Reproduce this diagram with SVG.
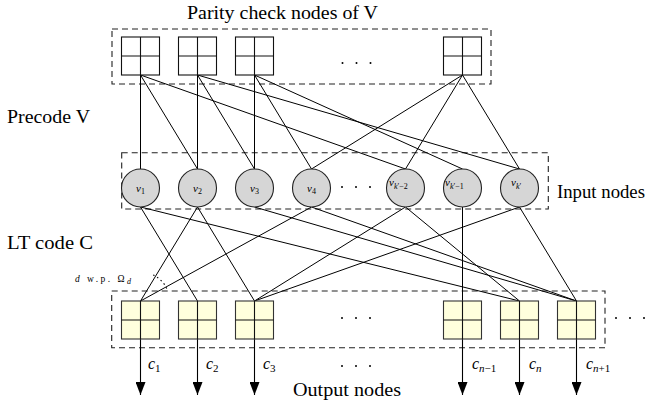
<svg xmlns="http://www.w3.org/2000/svg" width="654" height="405" viewBox="0 0 654 405">
<defs>
<marker id="arr" markerUnits="userSpaceOnUse" markerWidth="13" markerHeight="10" viewBox="0 0 13 10" refX="13" refY="5" orient="auto">
<path d="M0,0 L13,5 L0,10 z" fill="#000"/>
</marker>
</defs>
<style>
.lbl{font-family:"Liberation Serif","Times New Roman",serif;font-size:18px;fill:#000}
.it{font-family:"Liberation Serif","Times New Roman",serif;font-style:italic;fill:#000}
.rm{font-family:"Liberation Serif","Times New Roman",serif;fill:#000}
.box{fill:none;stroke:#222;stroke-width:1.1;stroke-dasharray:6,4}
.sqT{fill:#fff;stroke:#111;stroke-width:1.1}
.sqO{fill:#ffffdd;stroke:#333;stroke-width:1.1}
.cr{stroke:#111;stroke-width:1.1;fill:none}
.circ{fill:#d6d6d6;stroke:#222;stroke-width:1.1}
.e{stroke:#000;stroke-width:1;fill:none}
.out{stroke:#000;stroke-width:1.1;fill:none;marker-end:url(#arr)}
.dot{fill:#000}
</style>
<rect width="654" height="405" fill="#fff"/>

<!-- dashed group boxes -->
<rect class="box" x="112" y="29" width="379" height="55"/>
<rect class="box" x="121.7" y="152.7" width="426.6" height="56.3"/>
<rect class="box" x="111.7" y="291" width="493.3" height="56.7" stroke="#555"/>

<!-- labels -->
<text class="lbl" x="187" y="18.5" textLength="191" lengthAdjust="spacingAndGlyphs">Parity check nodes of V</text>
<text class="lbl" x="7" y="123" textLength="83" lengthAdjust="spacingAndGlyphs">Precode V</text>
<text class="lbl" x="7" y="249" textLength="86" lengthAdjust="spacingAndGlyphs">LT code C</text>
<text class="lbl" x="557" y="198" textLength="88" lengthAdjust="spacingAndGlyphs">Input nodes</text>
<text class="lbl" x="293" y="396" textLength="108" lengthAdjust="spacingAndGlyphs">Output nodes</text>
<text x="75" y="282" font-size="9.5" textLength="56" lengthAdjust="spacing"><tspan class="it">d</tspan><tspan class="rm"> w.p. Ω</tspan><tspan class="it" font-size="8" dy="2">d</tspan></text>

<!-- connectors -->
<g id="connectors">
<line class="e" x1="140.5" y1="75" x2="140.5" y2="169"/>
<line class="e" x1="140.5" y1="75" x2="197.5" y2="169"/>
<line class="e" x1="140.5" y1="75" x2="405.5" y2="169"/>
<line class="e" x1="197.5" y1="75" x2="197.5" y2="169"/>
<line class="e" x1="197.5" y1="75" x2="254.5" y2="169"/>
<line class="e" x1="197.5" y1="75" x2="519.5" y2="169"/>
<line class="e" x1="254.5" y1="75" x2="254.5" y2="169"/>
<line class="e" x1="254.5" y1="75" x2="311.5" y2="169"/>
<line class="e" x1="254.5" y1="75" x2="462.5" y2="169"/>
<line class="e" x1="462.5" y1="75" x2="311.5" y2="169"/>
<line class="e" x1="462.5" y1="75" x2="405.5" y2="169"/>
<line class="e" x1="462.5" y1="75" x2="519.5" y2="169"/>
<line class="e" x1="140.5" y1="207" x2="197.5" y2="301"/>
<line class="e" x1="140.5" y1="207" x2="519.5" y2="301"/>
<line class="e" x1="197.5" y1="207" x2="140.5" y2="301"/>
<line class="e" x1="197.5" y1="207" x2="254.5" y2="301"/>
<line class="e" x1="254.5" y1="207" x2="576.5" y2="301"/>
<line class="e" x1="311.5" y1="207" x2="140.5" y2="301"/>
<line class="e" x1="311.5" y1="207" x2="576.5" y2="301"/>
<line class="e" x1="405.5" y1="207" x2="254.5" y2="301"/>
<line class="e" x1="405.5" y1="207" x2="519.5" y2="301"/>
<line class="e" x1="462.5" y1="207" x2="462.5" y2="301"/>
<line class="e" x1="519.5" y1="207" x2="254.5" y2="301"/>
<line class="e" x1="519.5" y1="207" x2="576.5" y2="301"/>
<path d="M153.2,274.9 A29,29 0 0 1 167.4,290.1" fill="none" stroke="#000" stroke-width="1.1" stroke-dasharray="1.5,3"/>
<line class="out" x1="140.5" y1="301" x2="140.5" y2="395"/>
<line class="out" x1="197.5" y1="301" x2="197.5" y2="395"/>
<line class="out" x1="254.5" y1="301" x2="254.5" y2="395"/>
<line class="out" x1="462.5" y1="301" x2="462.5" y2="395"/>
<line class="out" x1="519.5" y1="301" x2="519.5" y2="395"/>
<line class="out" x1="576.5" y1="301" x2="576.5" y2="395"/>
</g>

<!-- parity check nodes -->
<g id="p1"><rect class="sqT" x="121.5" y="37" width="38" height="38"/><path class="cr" d="M140.5,37V75M121.5,56H159.5"/></g>
<g id="p2"><rect class="sqT" x="178.5" y="37" width="38" height="38"/><path class="cr" d="M197.5,37V75M178.5,56H216.5"/></g>
<g id="p3"><rect class="sqT" x="235.5" y="37" width="38" height="38"/><path class="cr" d="M254.5,37V75M235.5,56H273.5"/></g>
<g id="p4"><rect class="sqT" x="443.5" y="37" width="38" height="38"/><path class="cr" d="M462.5,37V75M443.5,56H481.5"/></g>
<g id="pdots"><circle class="dot" cx="342.5" cy="63" r="1"/><circle class="dot" cx="356.5" cy="63" r="1"/><circle class="dot" cx="370.5" cy="63" r="1"/></g>

<!-- input nodes -->
<g id="v1"><circle class="circ" cx="140.5" cy="188" r="19"/><text x="136" y="192"><tspan class="it" font-size="11">v</tspan><tspan class="rm" font-size="8" dy="2">1</tspan></text></g>
<g id="v2"><circle class="circ" cx="197.5" cy="188" r="19"/><text x="193" y="192"><tspan class="it" font-size="11">v</tspan><tspan class="rm" font-size="8" dy="2">2</tspan></text></g>
<g id="v3"><circle class="circ" cx="254.5" cy="188" r="19"/><text x="250" y="192"><tspan class="it" font-size="11">v</tspan><tspan class="rm" font-size="8" dy="2">3</tspan></text></g>
<g id="v4"><circle class="circ" cx="311.5" cy="188" r="19"/><text x="307" y="192"><tspan class="it" font-size="11">v</tspan><tspan class="rm" font-size="8" dy="2">4</tspan></text></g>
<g id="vdots"><circle class="dot" cx="342" cy="187" r="1"/><circle class="dot" cx="356" cy="187" r="1"/><circle class="dot" cx="370" cy="187" r="1"/></g>
<g id="vk2"><circle class="circ" cx="405.5" cy="188" r="19"/><text x="389" y="186"><tspan class="it" font-size="11">v</tspan><tspan font-size="8" dy="3"><tspan class="it">k</tspan><tspan class="rm">′−2</tspan></tspan></text></g>
<g id="vk1"><circle class="circ" cx="462.5" cy="188" r="19"/><text x="445" y="186"><tspan class="it" font-size="11">v</tspan><tspan font-size="8" dy="3"><tspan class="it">k</tspan><tspan class="rm">′−1</tspan></tspan></text></g>
<g id="vk"><circle class="circ" cx="519.5" cy="188" r="19"/><text x="511" y="186"><tspan class="it" font-size="11">v</tspan><tspan font-size="8" dy="3"><tspan class="it">k</tspan><tspan class="rm">′</tspan></tspan></text></g>

<!-- output nodes -->
<g id="o1"><rect class="sqO" x="121.5" y="301" width="38" height="38"/><path class="cr" d="M140.5,301V339M121.5,320H159.5"/><text x="148" y="369"><tspan class="it" font-size="16">c</tspan><tspan class="rm" font-size="11" dy="3">1</tspan></text></g>
<g id="o2"><rect class="sqO" x="178.5" y="301" width="38" height="38"/><path class="cr" d="M197.5,301V339M178.5,320H216.5"/><text x="206" y="369"><tspan class="it" font-size="16">c</tspan><tspan class="rm" font-size="11" dy="3">2</tspan></text></g>
<g id="o3"><rect class="sqO" x="235.5" y="301" width="38" height="38"/><path class="cr" d="M254.5,301V339M235.5,320H273.5"/><text x="263" y="369"><tspan class="it" font-size="16">c</tspan><tspan class="rm" font-size="11" dy="3">3</tspan></text></g>
<g id="odots"><circle class="dot" cx="342" cy="318" r="1"/><circle class="dot" cx="356" cy="318" r="1"/><circle class="dot" cx="370" cy="318" r="1"/><circle class="dot" cx="342" cy="366" r="1"/><circle class="dot" cx="356" cy="366" r="1"/><circle class="dot" cx="370" cy="366" r="1"/><circle class="dot" cx="616" cy="318" r="1"/><circle class="dot" cx="630" cy="318" r="1"/><circle class="dot" cx="644" cy="318" r="1"/></g>
<g id="o4"><rect class="sqO" x="443.5" y="301" width="38" height="38"/><path class="cr" d="M462.5,301V339M443.5,320H481.5"/><text x="472" y="369"><tspan class="it" font-size="16">c</tspan><tspan font-size="11" dy="3"><tspan class="it">n</tspan><tspan class="rm">−1</tspan></tspan></text></g>
<g id="o5"><rect class="sqO" x="500.5" y="301" width="38" height="38"/><path class="cr" d="M519.5,301V339M500.5,320H538.5"/><text x="529" y="369"><tspan class="it" font-size="16">c</tspan><tspan class="it" font-size="11" dy="3">n</tspan></text></g>
<g id="o6"><rect class="sqO" x="557.5" y="301" width="38" height="38"/><path class="cr" d="M576.5,301V339M557.5,320H595.5"/><text x="586" y="369"><tspan class="it" font-size="16">c</tspan><tspan font-size="11" dy="3"><tspan class="it">n</tspan><tspan class="rm">+1</tspan></tspan></text></g>
</svg>
